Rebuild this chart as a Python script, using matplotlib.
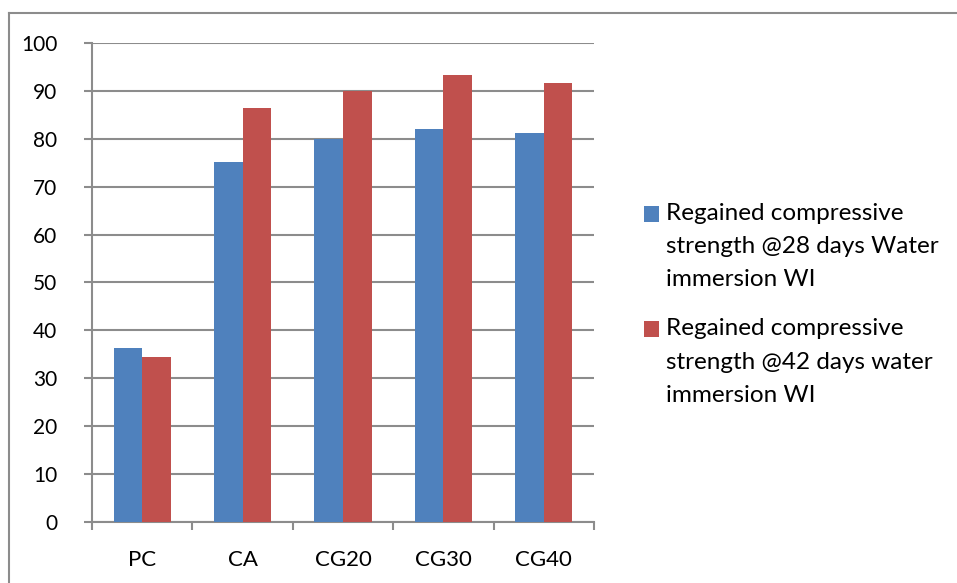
import numpy as np
import matplotlib.pyplot as plt
from matplotlib.lines import Line2D
from matplotlib.patches import Rectangle
from matplotlib.legend_handler import HandlerPatch

plt.rcParams['font.family'] = ['Lato', 'DejaVu Sans']

categories = ['PC', 'CA', 'CG20', 'CG30', 'CG40']
wi_28 = [36.2, 75.2, 79.9, 82.1, 81.2]
wi_42 = [34.4, 86.5, 90.0, 93.3, 91.7]
labels = ['Regained compressive\nstrength @28 days Water\nimmersion WI',
          'Regained compressive\nstrength @42 days water\nimmersion WI']
yticks = [0, 10, 20, 30, 40, 50, 60, 70, 80, 90, 100]

blue = '#4F81BD'
red = '#C0504D'
grid_col = '#8C8C8C'
line_step = 23.5  # points between legend text lines


def top_square(legend, orig_handle, xdescent, ydescent, width, height, fontsize):
    # put the legend swatch beside the first line of the wrapped label
    return Rectangle((-xdescent, -ydescent + line_step), width, height)


fig = plt.figure(figsize=(9.57, 5.83), dpi=100)
ax = fig.add_axes([0.0961, 0.1051, 0.5246, 0.8211])

x = np.arange(len(categories))
w = 0.285
b1 = ax.bar(x - w / 2, wi_28, w, color=blue, zorder=3)
b2 = ax.bar(x + w / 2, wi_42, w, color=red, zorder=3)

ax.set_xlim(-0.5, len(categories) - 0.5)
ax.set_ylim(0, 100)
ax.set_yticks(yticks)
ax.set_yticklabels([str(v) for v in yticks])
ax.yaxis.grid(True, color=grid_col, linewidth=1.5, zorder=0)
ax.set_axisbelow(True)

# category boundaries get the tick marks, labels sit in between
ax.set_xticks(np.arange(-0.5, len(categories), 1))
ax.set_xticklabels([''] * (len(categories) + 1))
ax.set_xticks(x, minor=True)
ax.set_xticklabels(categories, minor=True)
ax.tick_params(axis='x', which='major', length=6, width=1.5, color=grid_col, direction='out')
ax.tick_params(axis='x', which='minor', length=0, pad=20, labelsize=16, labelcolor='#000000')
ax.tick_params(axis='y', length=6, width=1.5, color=grid_col, pad=19, labelsize=15)

for side in ['top', 'right']:
    ax.spines[side].set_visible(False)
for side in ['left', 'bottom']:
    ax.spines[side].set_color(grid_col)
    ax.spines[side].set_linewidth(1.5)

h1, h2 = b1.patches[0], b2.patches[0]
leg = ax.legend([h1, h2], labels, loc='upper left', bbox_to_anchor=(0.673, 0.652),
                bbox_transform=fig.transFigure,
                frameon=False, handlelength=0.62, handleheight=0.62,
                handletextpad=0.3, labelspacing=1.15, borderaxespad=0, borderpad=0,
                handler_map={h1: HandlerPatch(patch_func=top_square),
                             h2: HandlerPatch(patch_func=top_square)},
                prop={'size': 17.5})
for t in leg.get_texts():
    t.set_linespacing(1.72)

# outer chart frame (only top and left edges visible in the crop)
fig.add_artist(Line2D([0.0099, 1.0], [0.9785, 0.9785], color=grid_col, linewidth=1.5))
fig.add_artist(Line2D([0.0099, 0.0099], [0.0, 0.9785], color=grid_col, linewidth=1.5))

fig.savefig('out.png', dpi=100)
